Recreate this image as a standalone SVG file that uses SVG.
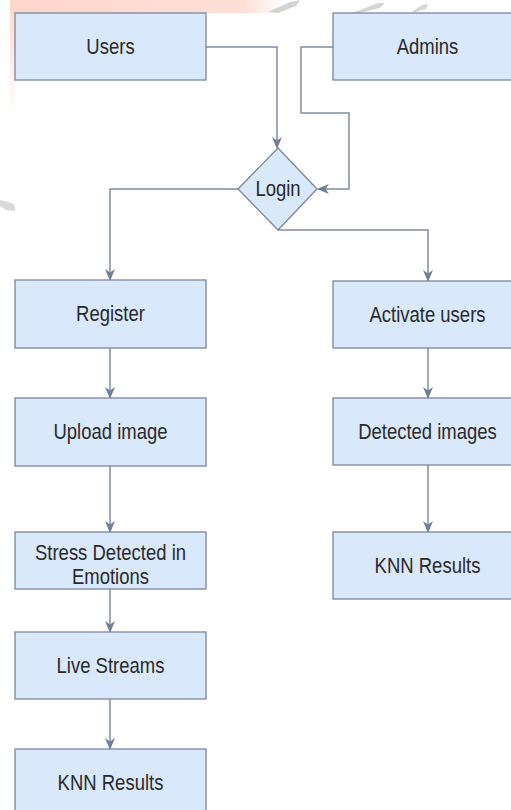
<svg xmlns="http://www.w3.org/2000/svg" width="511" height="810" viewBox="0 0 511 810">
<defs>
<style>
.box{fill:#dae8fc;stroke:#7a8797;stroke-width:1.3}
.lbl{font-family:"Liberation Sans",Arial,sans-serif;font-size:18.5px;fill:#2a2a2a;text-anchor:middle}
.edge{fill:none;stroke:#7e8da3;stroke-width:1.5}
</style>
<marker id="arr" viewBox="0 0 12 10" refX="11" refY="5" markerWidth="12" markerHeight="10" markerUnits="userSpaceOnUse" orient="auto">
<path d="M0,0 L12,5 L0,10 L3.5,5 Z" fill="#6f7f98"/>
</marker>
<linearGradient id="pinkH" x1="0" y1="0" x2="1" y2="0">
<stop offset="0" stop-color="#fdd6cc"/>
<stop offset="0.85" stop-color="#fde0d8"/>
<stop offset="1" stop-color="#fde0d8" stop-opacity="0"/>
</linearGradient>
<linearGradient id="pinkV" x1="0" y1="0" x2="0" y2="1">
<stop offset="0" stop-color="#fdd6cc"/>
<stop offset="1" stop-color="#fdd6cc" stop-opacity="0"/>
</linearGradient>
</defs>
<rect width="511" height="810" fill="#ffffff"/>
<g id="watermark">
<rect x="10" y="0" width="275" height="13" fill="url(#pinkH)"/>
<rect x="10" y="0" width="5" height="115" fill="url(#pinkV)"/>
<path d="M268,12 L290,2 L300,0 L296,6 L278,13 Z" fill="#c8c8c8" opacity="0.8"/>
<path d="M352,13 L378,3 L385,3 L380,8 L360,13 Z" fill="#cccccc" opacity="0.8"/>
<path d="M412,12 L422,5 L428,4 L426,9 L416,12 Z" fill="#cccccc" opacity="0.8"/>
<path d="M0,200 L12,203 L15,206 L15,211 L6,210 L0,206 Z" fill="#d0d0d0" opacity="0.8"/>
</g>
<g id="connectors">
<path class="edge" d="M206,47 H277 V148" marker-end="url(#arr)"/>
<path class="edge" d="M333,47 H301 V113 H349 V189 H318" marker-end="url(#arr)"/>
<path class="edge" d="M238,189 H110 V280" marker-end="url(#arr)"/>
<path class="edge" d="M278,230 H428 V281" marker-end="url(#arr)"/>
<path class="edge" d="M110,348 V398" marker-end="url(#arr)"/>
<path class="edge" d="M110,466 V532" marker-end="url(#arr)"/>
<path class="edge" d="M110,589 V632" marker-end="url(#arr)"/>
<path class="edge" d="M110,699 V749" marker-end="url(#arr)"/>
<path class="edge" d="M428,348 V398" marker-end="url(#arr)"/>
<path class="edge" d="M428,465 V532" marker-end="url(#arr)"/>
</g>
<g id="users">
<rect class="box" x="15" y="13" width="191" height="67"/>
<text class="lbl" transform="translate(110.5 47) scale(1 1.15)" y="6.5">Users</text>
</g>
<g id="admins">
<rect class="box" x="333" y="13" width="191" height="67"/>
<text class="lbl" transform="translate(427.5 47) scale(1 1.15)" y="6.5">Admins</text>
</g>
<g id="login">
<path class="box" d="M278,148 L317,189 L278,230 L238,189 Z"/>
<text class="lbl" transform="translate(278 189) scale(1 1.15)" y="6.5">Login</text>
</g>
<g id="register">
<rect class="box" x="15" y="280" width="191" height="68"/>
<text class="lbl" transform="translate(110.5 314) scale(1 1.15)" y="6.5">Register</text>
</g>
<g id="upload">
<rect class="box" x="15" y="398" width="191" height="68"/>
<text class="lbl" transform="translate(110.5 432) scale(1 1.15)" y="6.5">Upload image</text>
</g>
<g id="stress">
<rect class="box" x="15" y="532" width="191" height="57"/>
<text class="lbl" transform="translate(110.5 553) scale(1 1.15)" y="6.5">Stress Detected in</text>
<text class="lbl" transform="translate(110.5 577) scale(1 1.15)" y="6.5">Emotions</text>
</g>
<g id="live">
<rect class="box" x="15" y="632" width="191" height="67"/>
<text class="lbl" transform="translate(110.5 666) scale(1 1.15)" y="6.5">Live Streams</text>
</g>
<g id="knn-left">
<rect class="box" x="15" y="749" width="191" height="68"/>
<text class="lbl" transform="translate(110.5 783) scale(1 1.15)" y="6.5">KNN Results</text>
</g>
<g id="activate">
<rect class="box" x="333" y="281" width="191" height="67"/>
<text class="lbl" transform="translate(427.5 315) scale(1 1.15)" y="6.5">Activate users</text>
</g>
<g id="detected">
<rect class="box" x="333" y="398" width="191" height="67"/>
<text class="lbl" transform="translate(427.5 432) scale(1 1.15)" y="6.5">Detected images</text>
</g>
<g id="knn-right">
<rect class="box" x="333" y="532" width="191" height="67"/>
<text class="lbl" transform="translate(427.5 566) scale(1 1.15)" y="6.5">KNN Results</text>
</g>
</svg>
